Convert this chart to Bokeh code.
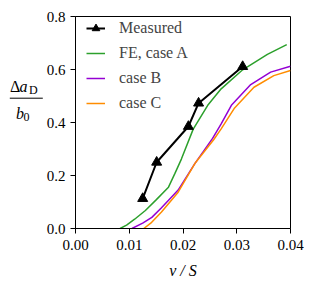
from bokeh.plotting import figure
from bokeh.layouts import row
from bokeh.models import Legend, LegendItem, FixedTicker, NumeralTickFormatter, Range1d
from bokeh.core.properties import value
from bokeh.embed import file_html
from bokeh.resources import INLINE

meas_x = [0.0125, 0.0151, 0.0210, 0.0229, 0.0311]
meas_y = [0.113, 0.250, 0.385, 0.473, 0.611]

a_x = [0.0083, 0.0095, 0.0110, 0.0130, 0.0150, 0.0173, 0.0185, 0.0197, 0.0219, 0.0246, 0.0271, 0.0311, 0.0357, 0.0393]
a_y = [0.000, 0.013, 0.035, 0.068, 0.108, 0.156, 0.208, 0.262, 0.375, 0.465, 0.527, 0.599, 0.657, 0.694]

b_x = [0.0105, 0.0125, 0.0142, 0.0160, 0.0191, 0.0222, 0.0255, 0.0271, 0.0290, 0.0326, 0.0363, 0.0400]
b_y = [0.000, 0.020, 0.042, 0.078, 0.145, 0.245, 0.340, 0.395, 0.465, 0.543, 0.590, 0.612]

c_x = [0.0127, 0.0140, 0.0160, 0.0191, 0.0222, 0.0257, 0.0271, 0.0296, 0.0332, 0.0369, 0.0400]
c_y = [0.000, 0.020, 0.062, 0.137, 0.245, 0.335, 0.376, 0.455, 0.533, 0.577, 0.596]

x_ticks = [0.0, 0.01, 0.02, 0.03, 0.04]
y_ticks = [0.0, 0.2, 0.4, 0.6, 0.8]

FONT = "Liberation Serif"
H = 290
LW = 43

p = figure(width=312 - LW, height=H, output_backend="svg", toolbar_location=None,
           x_range=Range1d(0, 0.04), y_range=Range1d(0, 0.8),
           min_border_left=30, min_border_right=22, min_border_top=16, min_border_bottom=62)
p.grid.visible = False
p.outline_line_color = "black"
p.outline_line_width = 1
p.background_fill_color = "white"
p.border_fill_color = "white"

for ax in (p.xaxis[0], p.yaxis[0]):
    ax.major_tick_out = 5
    ax.major_tick_in = 0
    ax.minor_tick_out = 0
    ax.minor_tick_in = 0
    ax.axis_line_color = "black"
    ax.major_tick_line_color = "black"
    ax.major_label_text_font = FONT
    ax.major_label_text_font_size = "15px"
    ax.major_label_text_color = "black"

p.xaxis.ticker = FixedTicker(ticks=x_ticks)
p.yaxis.ticker = FixedTicker(ticks=y_ticks)
p.xaxis.formatter = NumeralTickFormatter(format="0.00")
p.yaxis.formatter = NumeralTickFormatter(format="0.0")
p.xaxis.major_label_standoff = 6
p.yaxis.major_label_standoff = 5

p.xaxis.axis_label = "v / S"
p.xaxis.axis_label_text_font = FONT
p.xaxis.axis_label_text_font_style = "italic"
p.xaxis.axis_label_text_font_size = "16px"
p.xaxis.axis_label_standoff = 9
p.xaxis.axis_label_text_color = "black"

ra = p.line(a_x, a_y, line_color="#2ca02c", line_width=1.5)
rb = p.line(b_x, b_y, line_color="#9400d3", line_width=1.5)
rc = p.line(c_x, c_y, line_color="#ff8c00", line_width=1.5)
rm = p.line(meas_x, meas_y, line_color="black", line_width=2)
rs = p.scatter(meas_x, meas_y, marker="triangle", size=10, fill_color="black", line_color="black")

legend = Legend(items=[
    LegendItem(label="Measured", renderers=[rm, rs]),
    LegendItem(label="FE, case A", renderers=[ra]),
    LegendItem(label="case B", renderers=[rb]),
    LegendItem(label="case C", renderers=[rc]),
], location=(11, 115), margin=0, padding=3, spacing=5,
   glyph_width=19, glyph_height=20, label_height=20, label_standoff=14,
   label_text_font=FONT, label_text_font_size="16px",
   border_line_color=None, background_fill_alpha=0)
p.add_layout(legend, "center")

# y-axis label panel: Δa_D / b_0 as a stacked fraction; shares the y range of the plot,
# x in pixels of this panel
q = figure(width=LW, height=H, output_backend="svg", toolbar_location=None, title=None,
           x_range=Range1d(0, LW), y_range=p.y_range,
           x_axis_location=None, y_axis_location=None,
           min_border_left=0, min_border_right=0,
           min_border_top=16, min_border_bottom=62)
q.grid.visible = False
q.outline_line_color = None
q.background_fill_color = "white"
q.border_fill_color = "white"

def lab(x, y, t, size, style="normal"):
    q.text(x=[x], y=[y], text=[t], text_font=value(FONT), text_font_size=size,
           text_font_style=style, text_align="left", text_baseline="alphabetic",
           text_color="black")

lab(9.5, 0.5358, "\u0394", "16px")
lab(19, 0.5358, "a", "16px", "italic")
lab(28.5, 0.5245, "D", "12px")
lab(15.5, 0.4340, "b", "16px", "italic")
lab(23, 0.4226, "0", "12px")
q.segment(x0=[9.3], y0=[0.4917], x1=[42.3], y1=[0.4917], line_color="black", line_width=1)

layout = row(q, p, spacing=0)
open("out.html", "w").write(file_html(layout, INLINE))
